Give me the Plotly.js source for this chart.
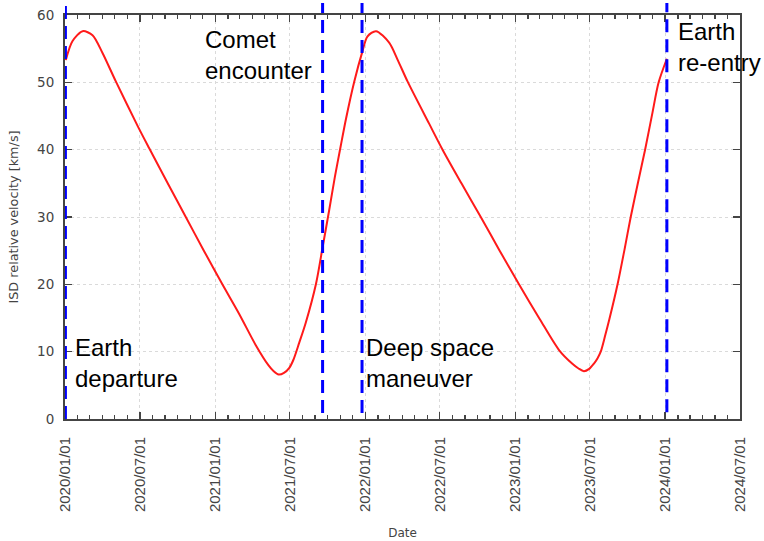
<!DOCTYPE html>
<html>
<head>
<meta charset="utf-8">
<script src="https://cdn.plot.ly/plotly-3.0.1.min.js"></script>
<style>html,body{margin:0;padding:0;background:#fff;}#chart{width:764px;height:541px;}</style>
</head>
<body>
<div id="chart"></div>
<script>
// Red curve: ISD relative velocity [km/s] vs date
const dates = [
  "2020-01-03","2020-01-19","2020-02-13","2020-03-08","2020-04-01","2020-05-04",
  "2020-06-26","2020-07-24","2020-09-07","2020-10-21","2020-12-04","2021-01-18",
  "2021-02-28","2021-04-09","2021-05-10","2021-05-23","2021-06-04","2021-06-17",
  "2021-06-30","2021-07-10","2021-07-24","2021-08-09","2021-09-03","2021-09-19",
  "2021-10-05","2021-10-19","2021-11-02","2021-11-15","2021-12-05","2021-12-25",
  "2022-01-06","2022-01-27","2022-02-28","2022-03-21","2022-04-14","2022-06-05",
  "2022-07-08","2022-08-23","2022-10-09","2022-11-24","2023-01-10","2023-03-01",
  "2023-04-18","2023-05-20","2023-06-04","2023-06-17","2023-06-30","2023-07-11",
  "2023-07-20","2023-07-28","2023-08-07","2023-08-18","2023-09-07","2023-09-24",
  "2023-10-09","2023-10-27","2023-11-13","2023-11-30","2023-12-16","2024-01-05"
];
const velocity = [
  53.3, 56.1, 57.6, 57.0, 54.4, 50.1,
  43.5, 40.2, 35.0, 30.0, 25.0, 20.0,
  15.6, 11.0, 8.0, 7.1, 6.6, 6.85,
  7.6, 8.8, 11.3, 14.3, 20.1, 25.5,
  31.0, 36.0, 40.5, 44.6, 50.1, 54.6,
  56.8, 57.6, 55.9, 53.3, 50.1, 43.9,
  40.0, 35.0, 30.0, 25.0, 20.0, 14.9,
  10.2, 8.2, 7.5, 7.1, 7.45, 8.2,
  9.0, 10.0, 12.2, 14.8, 20.0, 25.2,
  30.0, 35.2, 40.0, 45.2, 50.0, 53.5
];

// Mission events (vertical dashed lines)
const eventNames = ["Earth<br>departure", "Comet<br>encounter", "Deep space<br>maneuver", "Earth<br>re-entry"];
const eventDates = ["2020-01-02", "2021-09-19", "2021-12-24", "2024-01-05"];

// Axis ranges / ticks
const xRange = ["2020-01-01", "2024-07-01"];
const yRange = [0, 60];
const yTicks = [0, 10, 20, 30, 40, 50, 60];

const trace = {
  x: dates, y: velocity, type: "scatter", mode: "lines",
  line: {color: "#ff1a1a", width: 2, shape: "spline", smoothing: 0.8},
  hoverinfo: "skip", showlegend: false
};

const lineY = [[0, 1.03], [0.015, 1.03], [0.015, 1.03], [0.017, 1.03]];
const shapes = eventDates.map((d, i) => ({
  type: "line", xref: "x", yref: "paper",
  x0: d, x1: d, y0: lineY[i][0], y1: lineY[i][1],
  line: {color: "#0000ff", width: 3, dash: "13px,7px"}
}));

// annotation placement: [xanchor, xshift, y (top, in data units)]
const annPos = [["left", 8, 12.9], ["right", -9, 58.6], ["left", 2, 12.9], ["left", 9, 59.8]];
const annotations = eventNames.map((t, i) => ({
  x: eventDates[i], y: annPos[i][2], xref: "x", yref: "y",
  text: t, showarrow: false, align: "left",
  xanchor: annPos[i][0], yanchor: "top", xshift: annPos[i][1],
  font: {family: "Liberation Sans, Arial, sans-serif", size: 24, color: "#000"}
}));

const axisFont = "DejaVu Sans, sans-serif";

const layout = {
  width: 764, height: 541,
  margin: {l: 65, r: 24, t: 15, b: 122},
  paper_bgcolor: "#fff", plot_bgcolor: "#fff",
  font: {family: axisFont, color: "#333"},
  xaxis: {
    type: "date", range: xRange,
    tick0: "2020-01-01", dtick: "M6", tickformat: "%Y/%m/%d", tickangle: -90,
    ticks: "inside", ticklen: 7, tickwidth: 1.5, tickcolor: "#444",
    ticklabelstandoff: 10,
    showline: true, linecolor: "#444", linewidth: 2, mirror: "allticks",
    showgrid: true, gridcolor: "#dadada", griddash: "dot", gridwidth: 1,
    zeroline: false,
    tickfont: {family: "Liberation Sans, Arial, sans-serif", size: 15, color: "#444"},
    minor: {dtick: "M1", ticks: "inside", ticklen: 4, tickcolor: "#444", showgrid: false},
    title: {text: "Date", font: {family: axisFont, size: 12, color: "#444"}, standoff: 18}
  },
  yaxis: {
    range: yRange, tickvals: yTicks,
    ticks: "inside", ticklen: 7, tickwidth: 1.5, tickcolor: "#444",
    ticklabelstandoff: 6,
    showline: true, linecolor: "#444", linewidth: 2, mirror: "allticks",
    showgrid: true, gridcolor: "#dadada", griddash: "dot", gridwidth: 1,
    zeroline: false,
    tickfont: {family: axisFont, size: 13.5, color: "#444"},
    title: {text: "ISD relative velocity [km/s]", font: {family: axisFont, size: 12.8, color: "#444"}, standoff: 16}
  },
  shapes: shapes,
  annotations: annotations
};

Plotly.newPlot("chart", [trace], layout, {displayModeBar: false, staticPlot: true});
</script>
</body>
</html>
